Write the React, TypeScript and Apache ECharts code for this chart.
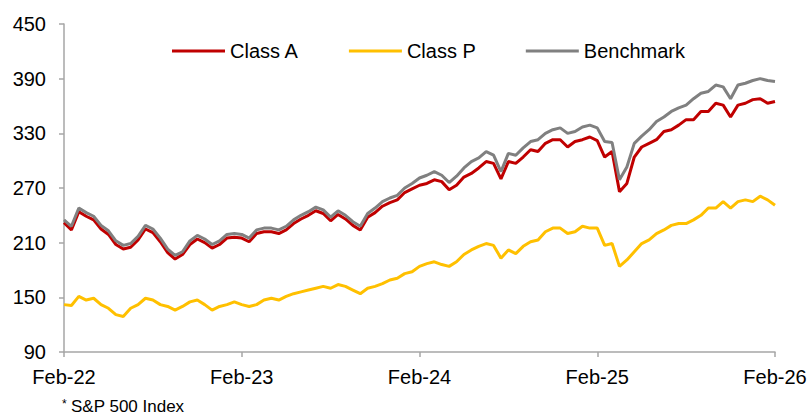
import React, { useEffect, useRef } from "react";
import * as echarts from "echarts";

// Half-monthly samples, Feb-22 .. Feb-26 (97 points)
const xTickLabels = ["Feb-22", "Feb-23", "Feb-24", "Feb-25", "Feb-26"];
const pointsPerYear = 24;

const benchmark = [
  235, 228, 248, 243, 239, 229, 223, 212, 207, 209, 217, 229, 225, 215, 203, 196, 200, 212, 218, 214, 208, 212, 219, 220, 219,
  215, 224, 226, 226, 224, 228, 235, 240, 244, 249, 246, 238, 245, 240, 233, 228, 242, 248, 255, 259, 262, 270, 275, 281,
  284, 288, 284, 276, 283, 292, 299, 303, 310, 306, 288, 308, 306, 314, 321, 323, 330, 334, 336, 330, 332, 337, 339, 336,
  321, 320, 279, 293, 319, 327, 334, 343, 348, 354, 358, 361, 368, 374, 376, 383, 381, 368, 383, 385, 388, 390, 388, 387,
];

const classA = [
  232, 224, 244, 239, 235, 225, 219, 208, 203, 205, 213, 225, 221, 211, 199, 192, 197, 208, 214, 210, 204, 208, 215, 216, 215,
  211, 220, 222, 222, 220, 224, 231, 236, 240, 245, 242, 234, 241, 236, 229, 224, 238, 243, 250, 254, 257, 265, 269, 273,
  275, 279, 277, 268, 273, 282, 286, 292, 299, 297, 280, 299, 297, 304, 312, 310, 319, 323, 323, 315, 321, 323, 326, 322,
  304, 310, 266, 275, 304, 315, 319, 323, 332, 334, 339, 345, 345, 354, 354, 363, 361, 348, 361, 363, 367, 368, 363, 365,
];

const classP = [
  142, 141, 151, 147, 149, 142, 138, 131, 129, 138, 142, 149, 147, 142, 140, 136, 140, 145, 147, 142, 136, 140, 142, 145, 142,
  140, 142, 147, 149, 147, 151, 154, 156, 158, 160, 162, 160, 164, 162, 158, 154, 160, 162, 165, 169, 171, 176, 178, 184,
  187, 189, 186, 184, 189, 197, 202, 206, 209, 207, 193, 202, 198, 206, 211, 213, 222, 226, 226, 220, 222, 228, 226, 226,
  207, 209, 184, 191, 200, 209, 213, 220, 224, 229, 231, 231, 235, 240, 248, 248, 255, 248, 255, 257, 255, 261, 257, 251,
];

const seriesNames = ["Class A", "Class P", "Benchmark"];
const seriesColors = ["#C00000", "#FFC000", "#808080"];
const footnote = "S&P 500 Index";

const FONT = '"Liberation Sans", Arial, sans-serif';

export default function App() {
  const ref = useRef<HTMLDivElement>(null);

  useEffect(() => {
    if (!ref.current) return;
    const chart = echarts.init(ref.current, null, { renderer: "svg" });
    const categories = benchmark.map((_, i) => String(i));
    const showTick = (index: number) => index % pointsPerYear === 0;
    const axisColor = "#A6A6A6";

    chart.setOption({
      animation: false,
      backgroundColor: "#ffffff",
      grid: { left: 64, right: 37, top: 24, bottom: 66, containLabel: false },
      legend: {
        data: seriesNames.map((n) => ({ name: n, icon: "rect" })),
        left: 167,
        top: 36,
        itemWidth: 53,
        itemHeight: 3,
        itemGap: 50,
        textStyle: { fontFamily: FONT, fontSize: 20, color: "#000" },
      },
      xAxis: {
        type: "category",
        data: categories,
        boundaryGap: false,
        axisLine: { show: true, lineStyle: { color: axisColor, width: 1.5 } },
        axisTick: { show: true, interval: showTick, length: 5, lineStyle: { color: axisColor, width: 1.5 } },
        axisLabel: {
          interval: showTick,
          formatter: (_v: string, idx: number) => xTickLabels[Math.round(idx / pointsPerYear)] ?? "",
          fontFamily: FONT,
          fontSize: 20,
          color: "#000",
          margin: 15,
        },
        splitLine: { show: false },
      },
      yAxis: {
        type: "value",
        min: 90,
        max: 450,
        interval: 60,
        axisLine: { show: true, lineStyle: { color: axisColor, width: 1.5 } },
        axisTick: { show: true, length: 5, lineStyle: { color: axisColor, width: 1.5 } },
        axisLabel: { fontFamily: FONT, fontSize: 20, color: "#000", margin: 18 },
        splitLine: { show: false },
      },
      series: [
        {
          name: "Class A",
          type: "line",
          data: classA,
          showSymbol: false,
          symbol: "none",
          lineStyle: { color: seriesColors[0], width: 3 },
          itemStyle: { color: seriesColors[0] },
          z: 2,
        },
        {
          name: "Class P",
          type: "line",
          data: classP,
          showSymbol: false,
          symbol: "none",
          lineStyle: { color: seriesColors[1], width: 3 },
          itemStyle: { color: seriesColors[1] },
          z: 2,
        },
        {
          name: "Benchmark",
          type: "line",
          data: benchmark,
          showSymbol: false,
          symbol: "none",
          lineStyle: { color: seriesColors[2], width: 3 },
          itemStyle: { color: seriesColors[2] },
          z: 3,
        },
      ],
      graphic: [
        {
          type: "text",
          left: 62,
          top: 398,
          style: { text: "*", fontFamily: FONT, fontSize: 12, fill: "#000" },
        },
        {
          type: "text",
          left: 71,
          top: 398,
          style: { text: footnote, fontFamily: FONT, fontSize: 17, fill: "#000" },
        },
      ],
    });

    return () => chart.dispose();
  }, []);

  return (
    <div
      ref={ref}
      style={{ position: "absolute", left: 0, top: 0, width: 812, height: 418 }}
    />
  );
}
